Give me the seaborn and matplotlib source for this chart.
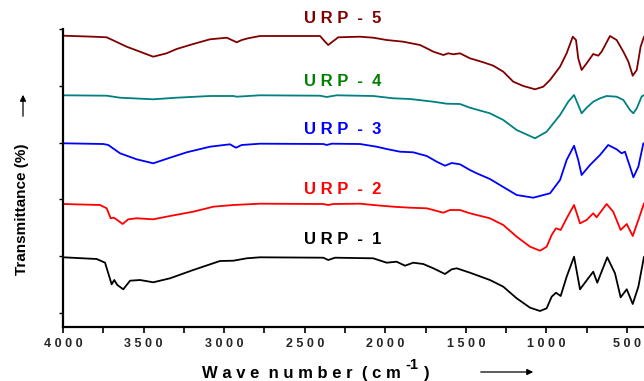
import numpy as np
import pandas as pd
import matplotlib
matplotlib.use("Agg")
import matplotlib.pyplot as plt
import seaborn as sns

# ---------------- data ----------------
samples = ["URP - 1", "URP - 2", "URP - 3", "URP - 4", "URP - 5"]

wn_urp5 = [3998, 3812, 3729, 3605, 3440, 3357, 3295, 3192, 3088, 2984, 2922, 2891, 2852, 2778,
           2405, 2374, 2354, 2333, 2292, 2157, 2075, 1992, 1889, 1785, 1743, 1702, 1640, 1609, 1578, 1537,
           1475, 1392, 1330, 1268, 1206, 1144, 1071, 1020, 978, 916, 875, 837, 817, 803, 782, 751,
           710, 679, 658, 606, 565, 523, 492, 465, 440, 416, 395]
t_urp5 = [291.3, 290.3, 289.7, 280.3, 270.3, 273.7, 278, 283, 287.7, 289.3, 284.7, 287, 288.7, 291,
          291, 285.3, 282, 284.7, 289.7, 290.3, 289.3, 287, 285.3, 282, 278.7, 275.3, 272, 273.7, 272.7, 273.7,
          268.7, 264.7, 261.3, 255.3, 245.3, 241, 237.7, 240.3, 247, 260.3, 273.7, 290.3, 287, 268.7, 257, 263.7,
          273, 271.3, 275.3, 291, 287, 275.3, 265.3, 251.3, 257, 280.3, 290.3]

wn_urp4 = [3998, 3729, 3646, 3440, 3295, 3088, 2943, 2922, 2778, 2405,
           2364, 2302, 2075, 1951, 1847, 1702, 1619, 1537, 1475, 1351,
           1268, 1185, 1071, 999, 916, 865, 829, 803, 782, 751,
           710, 668, 627, 565, 523, 482, 461, 440, 410, 395]
t_urp4 = [231.7, 231.3, 229.3, 227.7, 229.3, 231, 231, 230.3, 231.7, 231.3,
          230, 231.7, 231, 228.7, 228, 225.3, 223.3, 223, 219.3, 213.7,
          207, 197, 188.7, 195.3, 212, 225.3, 232, 222, 213.7, 219.3,
          225.3, 228.7, 231, 230.3, 227, 217, 213.7, 218.7, 230.3, 232]

wn_urp3 = [3998, 3750, 3719, 3646, 3543, 3440, 3336, 3232, 3088, 2964,
           2927, 2891, 2778, 2385, 2364, 2333, 2157, 2054, 1992, 1909,
           1827, 1743, 1681, 1630, 1588, 1537, 1475, 1433, 1351, 1289,
           1185, 1082, 978, 916, 875, 829, 803, 782, 730, 668,
           617, 565, 534, 513, 482, 461, 430, 399]
t_urp3 = [183.7, 183, 182, 173.7, 167.7, 163.7, 169.3, 174.7, 180.3, 182.7,
          179.3, 182, 183.3, 183, 182, 183.3, 183, 180.3, 178, 175.3,
          174.7, 171, 165.3, 161.3, 164, 162.7, 157, 153.7, 148, 142,
          132, 129.3, 133.7, 147, 167, 181.3, 167, 152, 162, 172,
          182, 177.7, 173.7, 175.3, 160.3, 149.7, 160.3, 183.7]

wn_urp2 = [3998, 3770, 3729, 3704, 3684, 3663, 3630, 3595, 3543, 3440,
           3336, 3192, 3067, 2943, 2778, 2385, 2354, 2323, 2157, 2054,
           1951, 1847, 1743, 1640, 1599, 1537, 1475, 1351, 1268, 1185,
           1102, 1040, 999, 968, 941, 912, 875, 829, 792, 751,
           710, 689, 627, 586, 540, 502, 465, 430, 395]
t_urp2 = [123, 122, 118.7, 108.7, 109.3, 107, 103, 107.7, 108.7, 107.7,
          111, 115.3, 120.3, 122, 123.3, 123, 122, 123, 123.3, 121.7,
          120.3, 119.3, 118.7, 114.3, 117, 117, 113.7, 108.7, 102, 90.3,
          80.3, 76.3, 80.3, 92, 98.7, 97, 108.7, 122, 103.7, 107,
          113.7, 109.7, 123, 115.3, 97, 103, 91, 107, 123.7]

wn_urp1 = [3998, 3791, 3739, 3719, 3698, 3682, 3663, 3626, 3584, 3522,
           3440, 3336, 3192, 3026, 2943, 2860, 2778, 2385, 2354, 2312,
           2075, 1992, 1930, 1878, 1827, 1765, 1702, 1630, 1588, 1557,
           1475, 1351, 1268, 1185, 1102, 1040, 999, 968, 941, 912,
           875, 829, 792, 741, 710, 685, 623, 575, 540, 502,
           465, 430, 395]
t_urp1 = [69.7, 68, 64.3, 53.7, 42.7, 47, 42, 37.7, 46.3, 47,
          44.7, 48.7, 57, 66, 66.3, 68.7, 69.7, 69.3, 67, 69.3,
          68.7, 64.3, 65.3, 61.3, 64.3, 63, 58.7, 53, 57.7, 58.7,
          54.3, 47, 40.3, 28.7, 19.3, 16, 18.7, 30.3, 34.3, 31,
          50.3, 70.3, 37.7, 48.7, 55.3, 44.3, 69.7, 53.7, 29.7, 37.7,
          23, 40.3, 70.3]

x_ticks = [4000, 3500, 3000, 2500, 2000, 1500, 1000, 500]
x_tick_labels = ["4 0 0 0", "3 5 0 0", "3 0 0 0", "2 5 0 0", "2 0 0 0", "1 5 0 0", "1 0 0 0", "5 0 0"]

line_colors = {"URP - 1": "#000000", "URP - 2": "#FF0000", "URP - 3": "#0000FF",
               "URP - 4": "#008080", "URP - 5": "#800000"}
label_colors = {"URP - 1": "#000000", "URP - 2": "#FF0000", "URP - 3": "#0000FF",
                "URP - 4": "#008000", "URP - 5": "#800000"}
label_texts = {"URP - 1": "U R P  -  1", "URP - 2": "U R P  -  2", "URP - 3": "U R P  -  3",
               "URP - 4": "U R P  -  4", "URP - 5": "U R P  -  5"}
label_y = {"URP - 1": 88, "URP - 2": 137, "URP - 3": 198, "URP - 4": 246, "URP - 5": 308.5}

series = {"URP - 1": (wn_urp1, t_urp1), "URP - 2": (wn_urp2, t_urp2), "URP - 3": (wn_urp3, t_urp3),
          "URP - 4": (wn_urp4, t_urp4), "URP - 5": (wn_urp5, t_urp5)}

frames = []
for name in samples:
    w, t = series[name]
    frames.append(pd.DataFrame({"wavenumber": w, "transmittance": t, "sample": name,
                                "order": np.arange(len(w))}))
df = pd.concat(frames, ignore_index=True)

# ---------------- styling ----------------
sns.set_theme(style="white")
plt.rcParams["font.family"] = ["Liberation Sans", "DejaVu Sans"]
plt.rcParams["font.weight"] = "bold"

fig = plt.figure(figsize=(6.44, 3.81), dpi=100)
ax = fig.add_axes([63 / 644, 54 / 381, 581 / 644, 298 / 381])

sns.lineplot(data=df, x="wavenumber", y="transmittance", hue="sample", palette=line_colors,
             estimator=None, sort=False, units="sample", legend=False, linewidth=1.3, ax=ax)

ax.set_xlim(4000, 395)
ax.set_ylim(0, 298)

for s in ["top", "right"]:
    ax.spines[s].set_visible(False)
for s in ["left", "bottom"]:
    ax.spines[s].set_color("black")
    ax.spines[s].set_linewidth(1.6)

ax.set_xticks(x_ticks)
ax.set_xticklabels(x_tick_labels)
ax.set_xticks(np.arange(3750, 400, -500), minor=True)
ax.tick_params(axis="x", which="both", direction="out", length=4, width=1.2, color="black",
               bottom=True, labelsize=9, pad=4)
for lab in ax.get_xticklabels():
    lab.set_fontweight("bold")

ax.set_yticks(np.linspace(14, 298, 6))
ax.set_yticklabels([])
ax.tick_params(axis="y", which="both", direction="out", length=3, width=1.0, color="black", left=True)

ax.set_xlabel("")
ax.set_ylabel("")

for name in samples:
    ax.text(2265, label_y[name], label_texts[name], ha="center", va="center",
            color=label_colors[name], fontsize=12, fontweight="bold", clip_on=False)

# axis titles
fig.text(202 / 644, 3 / 381, "W a v e  n u m b e r  ( c m", ha="left", va="baseline",
         fontsize=12, fontweight="bold", color="black")
fig.text(405 / 644, 12 / 381, "-1", ha="left", va="baseline",
         fontsize=10.5, fontweight="bold", color="black")
fig.text(424 / 644, 3 / 381, ")", ha="left", va="baseline",
         fontsize=12, fontweight="bold", color="black")
fig.text(22 / 644, 1 - 209 / 381, "Transmittance (%)", rotation=90, ha="center", va="center",
         fontsize=11, fontweight="bold", color="black")

ax.annotate("", xy=(536 / 644, 1 - 372 / 381), xytext=(478 / 644, 1 - 372 / 381),
            xycoords="figure fraction", textcoords="figure fraction",
            arrowprops=dict(arrowstyle="-|>", color="black", lw=0.9, mutation_scale=9))
ax.annotate("", xy=(23 / 644, 1 - 92 / 381), xytext=(23 / 644, 1 - 119 / 381),
            xycoords="figure fraction", textcoords="figure fraction",
            arrowprops=dict(arrowstyle="-|>", color="black", lw=0.9, mutation_scale=9))

fig.savefig("out.png", dpi=100)
